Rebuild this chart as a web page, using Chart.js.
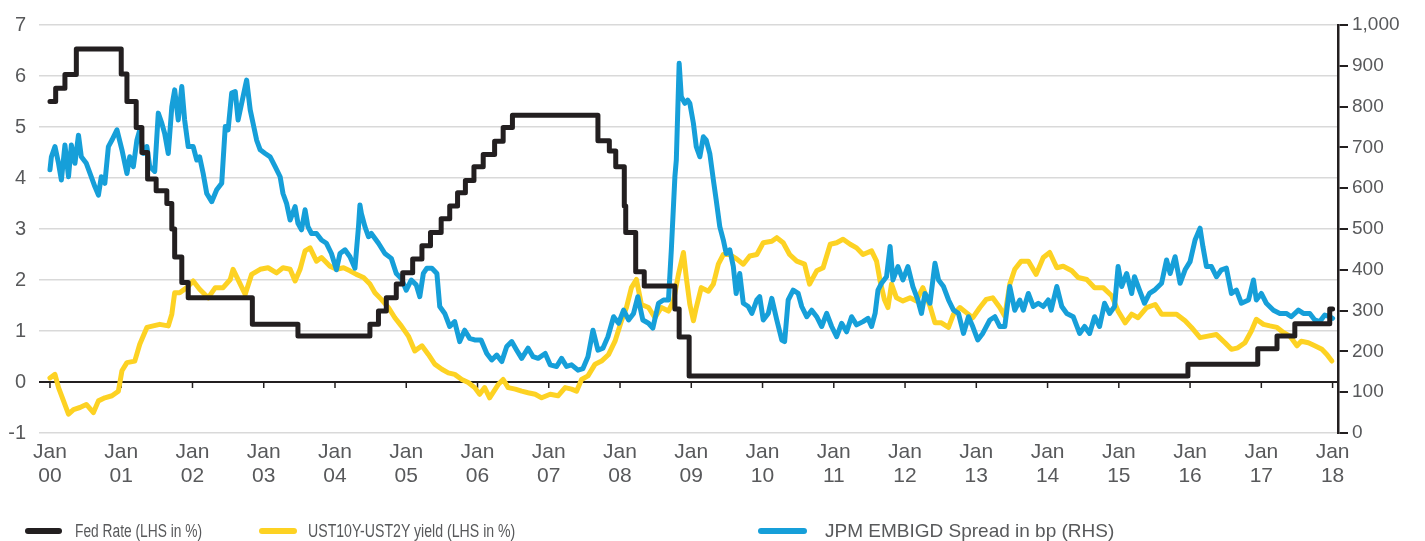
<!DOCTYPE html>
<html><head><meta charset="utf-8">
<script src="https://cdn.jsdelivr.net/npm/chart.js@4.4.1/dist/chart.umd.min.js"></script>
<style>
html,body{margin:0;padding:0;background:#fff;}
#wrap{position:relative;width:1425px;height:541px;}
#legend{position:absolute;left:0;top:0;width:1425px;height:541px;pointer-events:none;font-family:"Liberation Sans",Arial,sans-serif;color:#58595b;}
.sw{position:absolute;height:6px;border-radius:3px;top:528px;}
.lt{position:absolute;top:519px;line-height:24px;white-space:nowrap;transform-origin:0 50%;}
</style></head>
<body><div id="wrap"><canvas id="c"></canvas><div id="legend"></div></div>
<script>
// ---------- DATA (x = years since Jan 2000) ----------
const seriesNames = ['Fed Rate (LHS in %)', 'UST10Y-UST2Y yield (LHS in %)', 'JPM EMBIGD Spread in bp (RHS)'];
const xTickYears = [0,1,2,3,4,5,6,7,8,9,10,11,12,13,14,15,16,17,18];
const xTickLabels = ['00','01','02','03','04','05','06','07','08','09','10','11','12','13','14','15','16','17','18'];
const leftTicks = [-1,0,1,2,3,4,5,6,7];
const rightTicks = [0,100,200,300,400,500,600,700,800,900,1000];

const fedDates = [0,0.08,0.21,0.37,1.0,1.08,1.21,1.29,1.37,1.49,1.64,1.71,1.75,1.85,1.94,2.84,3.48,
  4.49,4.61,4.72,4.86,4.95,5.09,5.22,5.34,5.49,5.61,5.72,5.83,5.95,6.08,6.24,6.36,6.49,
  7.69,7.85,7.94,8.06,8.08,8.22,8.34,8.77,8.83,8.97,15.97,16.95,17.22,17.47,17.96,18.0];
const fedRates = [5.5,5.76,6.03,6.53,6.04,5.5,4.99,4.5,3.98,3.75,3.5,3.0,2.45,1.95,1.65,1.13,0.9,
  1.13,1.39,1.65,1.92,2.14,2.41,2.67,2.93,3.2,3.45,3.71,3.95,4.22,4.46,4.72,4.99,5.23,
  4.73,4.53,4.22,3.45,2.93,2.16,1.88,1.43,0.88,0.12,0.35,0.65,0.9,1.14,1.43,1.43];

const curveDates = [0.00,0.07,0.12,0.19,0.26,0.33,0.42,0.51,0.61,0.68,0.77,0.87,0.96,1.01,1.08,1.19,1.26,1.36,1.45,1.54,
  1.66,1.71,1.75,1.82,1.92,2.01,2.10,2.22,2.32,2.43,2.53,2.57,2.67,2.74,2.83,2.95,3.06,3.18,3.27,3.37,
  3.44,3.51,3.58,3.65,3.74,3.81,3.93,4.02,4.12,4.21,4.30,4.40,
  4.49,4.56,4.65,4.75,4.84,4.93,5.03,5.12,5.22,5.31,5.40,5.50,5.59,5.68,5.78,5.87,5.96,6.03,6.10,6.17,
  6.29,6.36,6.43,6.53,6.62,6.71,6.81,6.90,7.02,7.13,7.23,7.32,7.39,7.46,7.55,7.65,7.74,7.84,7.93,8.02,
  8.09,8.16,8.23,8.30,8.40,8.49,8.58,8.68,8.75,8.82,8.89,8.93,
  8.98,9.03,9.07,9.14,9.24,9.31,9.38,9.45,9.54,9.64,9.73,9.82,9.92,10.01,10.13,10.20,10.29,10.38,10.48,10.59,
  10.66,10.76,10.85,10.95,11.04,11.13,11.23,11.32,11.41,11.53,11.60,11.65,11.71,11.76,11.81,11.88,11.97,12.07,12.16,12.25,
  12.35,12.42,12.51,12.61,12.68,12.77,12.86,12.95,13.05,13.14,13.23,13.33,13.40,13.47,13.54,
  13.63,13.73,13.84,13.94,14.03,14.13,14.22,14.34,14.43,14.55,14.66,14.78,14.90,14.99,15.09,15.18,15.27,15.39,15.51,15.60,
  15.69,15.81,15.93,16.02,16.14,16.25,16.37,16.49,16.58,16.67,16.77,16.86,16.93,17.03,17.12,17.22,17.31,17.40,17.50,17.56,
  17.66,17.75,17.85,17.92,17.99];
const curveValues = [0.08,0.15,-0.11,-0.37,-0.63,-0.54,-0.50,-0.44,-0.60,-0.37,-0.31,-0.27,-0.18,0.22,0.38,0.41,0.74,1.07,1.10,1.13,
  1.10,1.33,1.75,1.75,1.85,1.98,1.82,1.65,1.85,1.85,2.01,2.21,1.92,1.72,2.11,2.21,2.24,2.14,2.24,2.21,
  1.98,2.21,2.57,2.63,2.37,2.44,2.27,2.21,2.24,2.18,2.11,2.05,
  1.92,1.75,1.62,1.46,1.26,1.10,0.90,0.61,0.71,0.54,0.35,0.25,0.18,0.15,0.05,-0.01,-0.11,-0.24,-0.11,-0.31,
  -0.05,0.05,-0.11,-0.14,-0.18,-0.21,-0.24,-0.31,-0.24,-0.27,-0.11,-0.14,-0.18,0.05,0.12,0.35,0.41,0.54,0.80,1.20,
  1.46,1.85,2.01,1.52,1.46,1.26,1.46,1.39,1.59,2.11,2.54,2.05,
  1.52,1.20,1.46,1.85,1.78,1.92,2.31,2.50,2.50,2.41,2.31,2.47,2.50,2.73,2.76,2.83,2.73,2.50,2.37,2.31,
  1.92,2.18,2.24,2.70,2.73,2.80,2.70,2.63,2.50,2.57,2.37,1.98,1.62,1.46,1.92,1.65,1.59,1.65,1.59,1.85,
  1.49,1.16,1.16,1.07,1.33,1.46,1.36,1.26,1.46,1.62,1.65,1.46,1.29,1.92,2.21,
  2.37,2.37,2.11,2.44,2.54,2.24,2.27,2.18,2.05,2.01,1.85,1.85,1.69,1.39,1.16,1.33,1.26,1.46,1.52,1.33,
  1.33,1.33,1.20,1.07,0.87,0.90,0.93,0.77,0.64,0.67,0.77,1.00,1.23,1.13,1.10,1.07,0.97,0.90,0.71,0.80,
  0.77,0.71,0.64,0.54,0.41];

const embiDates = [0.00,0.02,0.07,0.12,0.16,0.21,0.26,0.30,0.35,0.40,0.44,0.51,0.58,0.63,0.68,0.72,0.77,0.82,0.87,0.94,
  1.01,1.08,1.12,1.17,1.22,1.26,1.31,1.36,1.40,1.47,1.52,1.57,1.61,1.66,1.71,1.75,1.80,1.85,1.89,1.94,
  2.01,2.06,2.10,2.15,2.20,2.27,2.34,2.41,2.46,2.50,2.55,2.60,2.64,2.69,2.74,2.76,2.81,2.85,2.90,2.95,
  3.02,3.09,3.16,3.23,3.27,3.32,3.37,3.44,3.48,3.53,3.58,3.62,3.67,3.74,3.81,3.88,3.95,4.02,4.07,4.14,
  4.21,4.28,4.33,4.35,4.37,4.42,4.47,
  4.51,4.61,4.70,4.79,4.86,4.93,5.00,5.07,5.14,5.19,5.24,5.29,5.36,5.43,5.47,5.54,5.61,5.68,5.75,5.82,
  5.89,5.96,6.05,6.13,6.20,6.27,6.34,6.41,6.48,6.55,6.62,6.71,6.78,6.85,6.95,7.02,7.11,7.18,7.25,7.32,
  7.41,7.48,7.55,7.62,7.69,7.76,7.83,7.91,7.98,8.05,8.12,8.19,8.25,8.32,8.40,8.46,8.54,8.61,8.68,8.72,
  8.77,8.79,8.83,8.86,8.91,8.95,
  8.98,9.03,9.07,9.12,9.17,9.21,9.26,9.31,9.35,9.40,9.45,9.49,9.54,9.59,9.63,9.68,9.73,9.80,9.85,9.92,
  9.96,10.01,10.08,10.13,10.20,10.27,10.31,10.36,10.43,10.50,10.55,10.62,10.69,10.76,10.83,10.90,10.97,11.04,11.11,11.18,
  11.25,11.32,11.41,11.48,11.53,11.58,11.62,11.67,11.74,11.79,11.83,11.90,11.97,12.04,12.11,12.18,12.23,12.28,12.35,12.42,
  12.47,12.54,12.61,12.68,12.75,12.82,12.89,12.95,13.02,13.09,13.19,13.26,13.33,13.40,13.47,13.54,13.61,
  13.66,13.73,13.80,13.87,13.94,14.01,14.05,14.13,14.20,14.27,14.36,14.45,14.52,14.59,14.66,14.73,14.80,14.87,14.94,14.99,
  15.04,15.11,15.18,15.22,15.29,15.36,15.43,15.50,15.60,15.67,15.72,15.79,15.86,15.93,16.00,16.07,16.14,16.18,16.23,16.30,
  16.37,16.44,16.51,16.58,16.65,16.72,16.82,16.89,16.93,17.00,17.07,17.17,17.26,17.35,17.42,17.52,17.59,17.68,17.75,17.82,
  17.89,17.96,18.00];
const embiSpreads = [645,677,702,661,620,706,628,706,661,730,677,661,628,604,583,628,612,702,718,743,
  694,636,677,653,718,743,685,702,653,641,784,759,734,685,800,841,767,849,767,702,
  702,669,677,636,587,567,596,612,751,743,833,837,767,808,849,865,792,759,718,694,
  685,677,653,628,587,563,522,555,514,498,547,506,489,489,473,465,440,400,440,449,
  432,404,506,559,538,506,481,
  489,465,440,428,391,379,350,375,363,334,391,404,404,391,310,293,261,273,224,252,
  232,228,228,195,179,191,175,212,224,203,183,208,187,183,195,167,163,183,163,167,
  154,158,187,252,203,208,236,285,269,301,277,293,334,277,269,257,318,326,326,449,
  628,669,906,824,808,816,
  808,759,702,677,726,718,685,620,571,506,473,440,449,408,342,391,318,310,293,326,
  334,277,293,330,277,228,224,326,350,342,310,285,301,285,261,293,261,236,269,248,
  285,265,273,281,261,293,350,367,383,457,375,408,375,408,359,326,293,342,318,416,
  375,359,326,301,293,244,285,261,228,244,277,285,261,261,359,301,326,
  301,342,310,318,310,326,301,359,310,293,285,244,261,244,285,261,318,293,310,408,
  359,391,342,383,350,318,342,350,367,424,391,432,367,400,420,473,502,457,408,408,
  383,400,404,342,350,318,326,375,326,342,318,301,293,293,285,301,293,293,277,273,
  289,285,281];

// ---------- STYLE ----------
const colors = ['#231f20', '#fdd223', '#169fd9'];
const FONT = '"Liberation Sans", Arial, sans-serif';
const TXT = '#58595b';

const pts = (xs, ys) => xs.map((x, i) => ({x: x, y: ys[i]}));

const zeroLine = {
  id: 'zeroLine',
  beforeDatasetsDraw(chart) {
    const {ctx, chartArea: a, scales: {x, y}} = chart;
    const y0 = y.getPixelForValue(0);
    ctx.save();
    ctx.strokeStyle = '#231f20';
    ctx.lineWidth = 2;
    ctx.beginPath(); ctx.moveTo(a.left, y0); ctx.lineTo(a.right, y0); ctx.stroke();
    ctx.lineWidth = 1.5;
    ctx.beginPath();
    xTickYears.forEach(v => { const px = x.getPixelForValue(v); ctx.moveTo(px, y0); ctx.lineTo(px, y0 + 6); });
    ctx.stroke();
    ctx.restore();
  }
};

const common = {pointRadius: 0, pointHoverRadius: 0, borderWidth: 5, tension: 0, fill: false,
  borderJoinStyle: 'round', borderCapStyle: 'round'};

new Chart(document.getElementById('c'), {
  type: 'line',
  data: {
    datasets: [
      Object.assign({label: seriesNames[0], data: pts(fedDates, fedRates), borderColor: colors[0], stepped: true, yAxisID: 'y', order: 0}, common),
      Object.assign({label: seriesNames[2], data: pts(embiDates, embiSpreads), borderColor: colors[2], yAxisID: 'y2', order: 1}, common),
      Object.assign({label: seriesNames[1], data: pts(curveDates, curveValues), borderColor: colors[1], yAxisID: 'y', order: 2}, common)
    ]
  },
  options: {
    responsive: true, maintainAspectRatio: false, animation: false,
    layout: {padding: {top: 24, left: 0, right: 0, bottom: 0}},
    plugins: {legend: {display: false}, tooltip: {enabled: false}},
    scales: {
      x: {
        type: 'linear', min: -0.154, max: 18.076,
        afterBuildTicks: s => { s.ticks = xTickYears.map(v => ({value: v})); },
        afterFit: s => { s.height = 108; },
        grid: {display: false, drawTicks: false}, border: {display: false},
        ticks: {autoSkip: false, maxRotation: 0, minRotation: 0, padding: 7, color: TXT,
          font: {family: FONT, size: 21, lineHeight: 1.15},
          callback: v => ['Jan', xTickLabels[xTickYears.indexOf(v)]]}
      },
      y: {
        position: 'left', min: -1, max: 7,
        afterBuildTicks: s => { s.ticks = leftTicks.map(v => ({value: v})); },
        afterFit: s => { s.width = 39; },
        grid: {color: '#d9d9d9', lineWidth: 1.5, drawTicks: false}, border: {display: false},
        ticks: {padding: 13, color: TXT, font: {family: FONT, size: 20}, callback: v => String(v)}
      },
      y2: {
        position: 'right', min: 0, max: 1000,
        afterBuildTicks: s => { s.ticks = rightTicks.map(v => ({value: v})); },
        afterFit: s => { s.width = 87; },
        grid: {drawOnChartArea: false, drawTicks: true, tickLength: 10, color: '#231f20', lineWidth: 2},
        border: {display: true, color: '#231f20', width: 2.5},
        ticks: {padding: 4, color: TXT, font: {family: FONT, size: 19}, callback: v => v.toLocaleString('en-US')}
      }
    }
  },
  plugins: [zeroLine]
});

// ---------- LEGEND (HTML) ----------
const legendLayout = [
  {sw: 25, w: 37, tx: 75, size: 18, sx: 0.765},
  {sw: 259, w: 38, tx: 308, size: 18, sx: 0.785},
  {sw: 758, w: 49, tx: 825, size: 19, sx: 1}
];
const lg = document.getElementById('legend');
[0, 1, 2].forEach(i => {
  const L = legendLayout[i];
  const s = document.createElement('div');
  s.className = 'sw'; s.style.left = L.sw + 'px'; s.style.width = L.w + 'px'; s.style.background = colors[i];
  lg.appendChild(s);
  const t = document.createElement('div');
  t.className = 'lt'; t.style.left = L.tx + 'px'; t.style.fontSize = L.size + 'px';
  t.style.transform = 'scaleX(' + L.sx + ')';
  t.textContent = seriesNames[i];
  lg.appendChild(t);
});
</script>
</body></html>
